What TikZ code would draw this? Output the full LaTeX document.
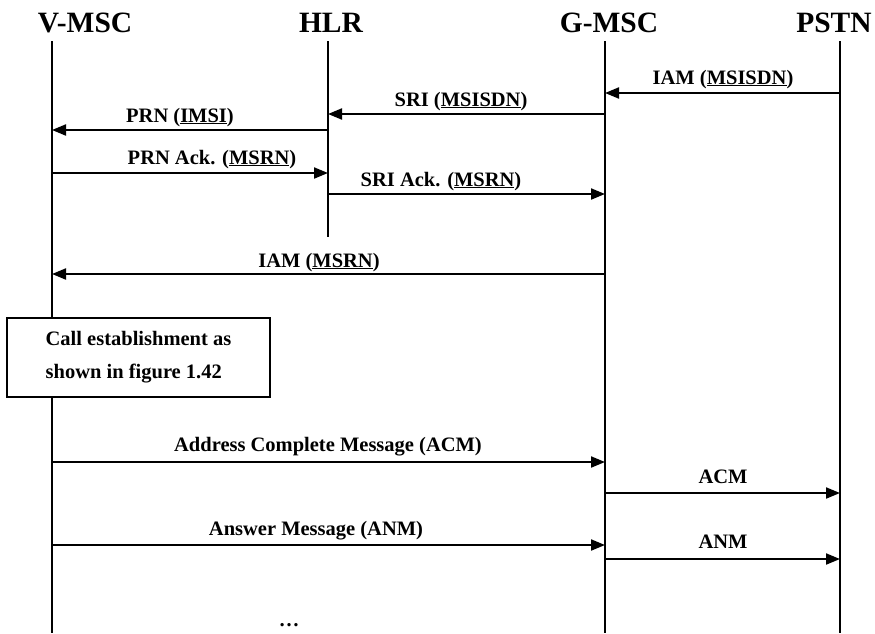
\documentclass[tikz,border=0pt]{standalone}
\usepackage{fontspec}
\setmainfont{Liberation Serif}
\usetikzlibrary{arrows.meta}
\newcommand{\prm}[1]{\underline{#1}}
\begin{document}
\begin{tikzpicture}[x=1pt,y=-1pt,
  lifeline/.style={line width=2pt},
  msg/.style={line width=2pt,-{Triangle[length=14pt,width=11pt]}},
  entity/.style={font=\fontsize{29.5}{32}\selectfont\bfseries,anchor=base},
  lbl/.style={font=\fontsize{20.5}{24}\selectfont\bfseries,anchor=base,inner sep=0pt},
  notebox/.style={draw,line width=2.2pt,fill=white,align=left,inner sep=0pt,
    font=\fontsize{20.5}{33}\selectfont\bfseries}]
\useasboundingbox (0,0) rectangle (875,633);

% entity titles
\node[entity] (tv) at (85,32) {V-MSC};
\node[entity] (th) at (331,32) {HLR};
\node[entity] (tg) at (609,32) {G-MSC};
\node[entity] (tp) at (834,32) {PSTN};

% lifelines
\coordinate (vtop) at (52,41);  \coordinate (vbot) at (52,633);
\coordinate (htop) at (328,41); \coordinate (hbot) at (328,237);
\coordinate (gtop) at (605,41); \coordinate (gbot) at (605,633);
\coordinate (ptop) at (840,41); \coordinate (pbot) at (840,633);
\draw[lifeline] (vtop) -- (vbot);
\draw[lifeline] (htop) -- (hbot);
\draw[lifeline] (gtop) -- (gbot);
\draw[lifeline] (ptop) -- (pbot);

% message end points on the lifelines
\coordinate (p1) at (840,93);  \coordinate (g1) at (605,93);
\coordinate (g2) at (605,114); \coordinate (h2) at (328,114);
\coordinate (h3) at (328,130); \coordinate (v3) at (52,130);
\coordinate (v4) at (52,173);  \coordinate (h4) at (328,173);
\coordinate (h5) at (328,194); \coordinate (g5) at (605,194);
\coordinate (g6) at (605,274); \coordinate (v6) at (52,274);
\coordinate (v7) at (52,462);  \coordinate (g7) at (605,462);
\coordinate (g8) at (605,493); \coordinate (p8) at (840,493);
\coordinate (v9) at (52,545);  \coordinate (g9) at (605,545);
\coordinate (g10) at (605,559); \coordinate (p10) at (840,559);

% messages
\draw[msg] (p1) -- (g1);
\node[lbl] (l1) at (723,84) {IAM (\prm{MSISDN})};
\draw[msg] (g2) -- (h2);
\node[lbl] (l2) at (461,106) {SRI (\prm{MSISDN})};
\draw[msg] (h3) -- (v3);
\node[lbl] (l3) at (180,122) {PRN (\prm{IMSI})};
\draw[msg] (v4) -- (h4);
\node[lbl] (l4) at (212,164) {PRN Ack. (\prm{MSRN})};
\draw[msg] (h5) -- (g5);
\node[lbl] (l5) at (441,186) {SRI Ack. (\prm{MSRN})};
\draw[msg] (g6) -- (v6);
\node[lbl] (l6) at (319,267) {IAM (\prm{MSRN})};

% call establishment note
\node[notebox,minimum width=263pt,minimum height=79pt] (note) at (138.5,357.5)
  {Call establishment as\\shown in figure 1.42};

\draw[msg] (v7) -- (g7);
\node[lbl] (l7) at (328,451) {Address Complete Message (ACM)};
\draw[msg] (g8) -- (p8);
\node[lbl] (l8) at (723,483) {ACM};
\draw[msg] (v9) -- (g9);
\node[lbl] (l9) at (316,535) {Answer Message (ANM)};
\draw[msg] (g10) -- (p10);
\node[lbl] (l10) at (723,548) {ANM};

\node[lbl] (dots) at (289,626) {\ldots};
\end{tikzpicture}
\end{document}
